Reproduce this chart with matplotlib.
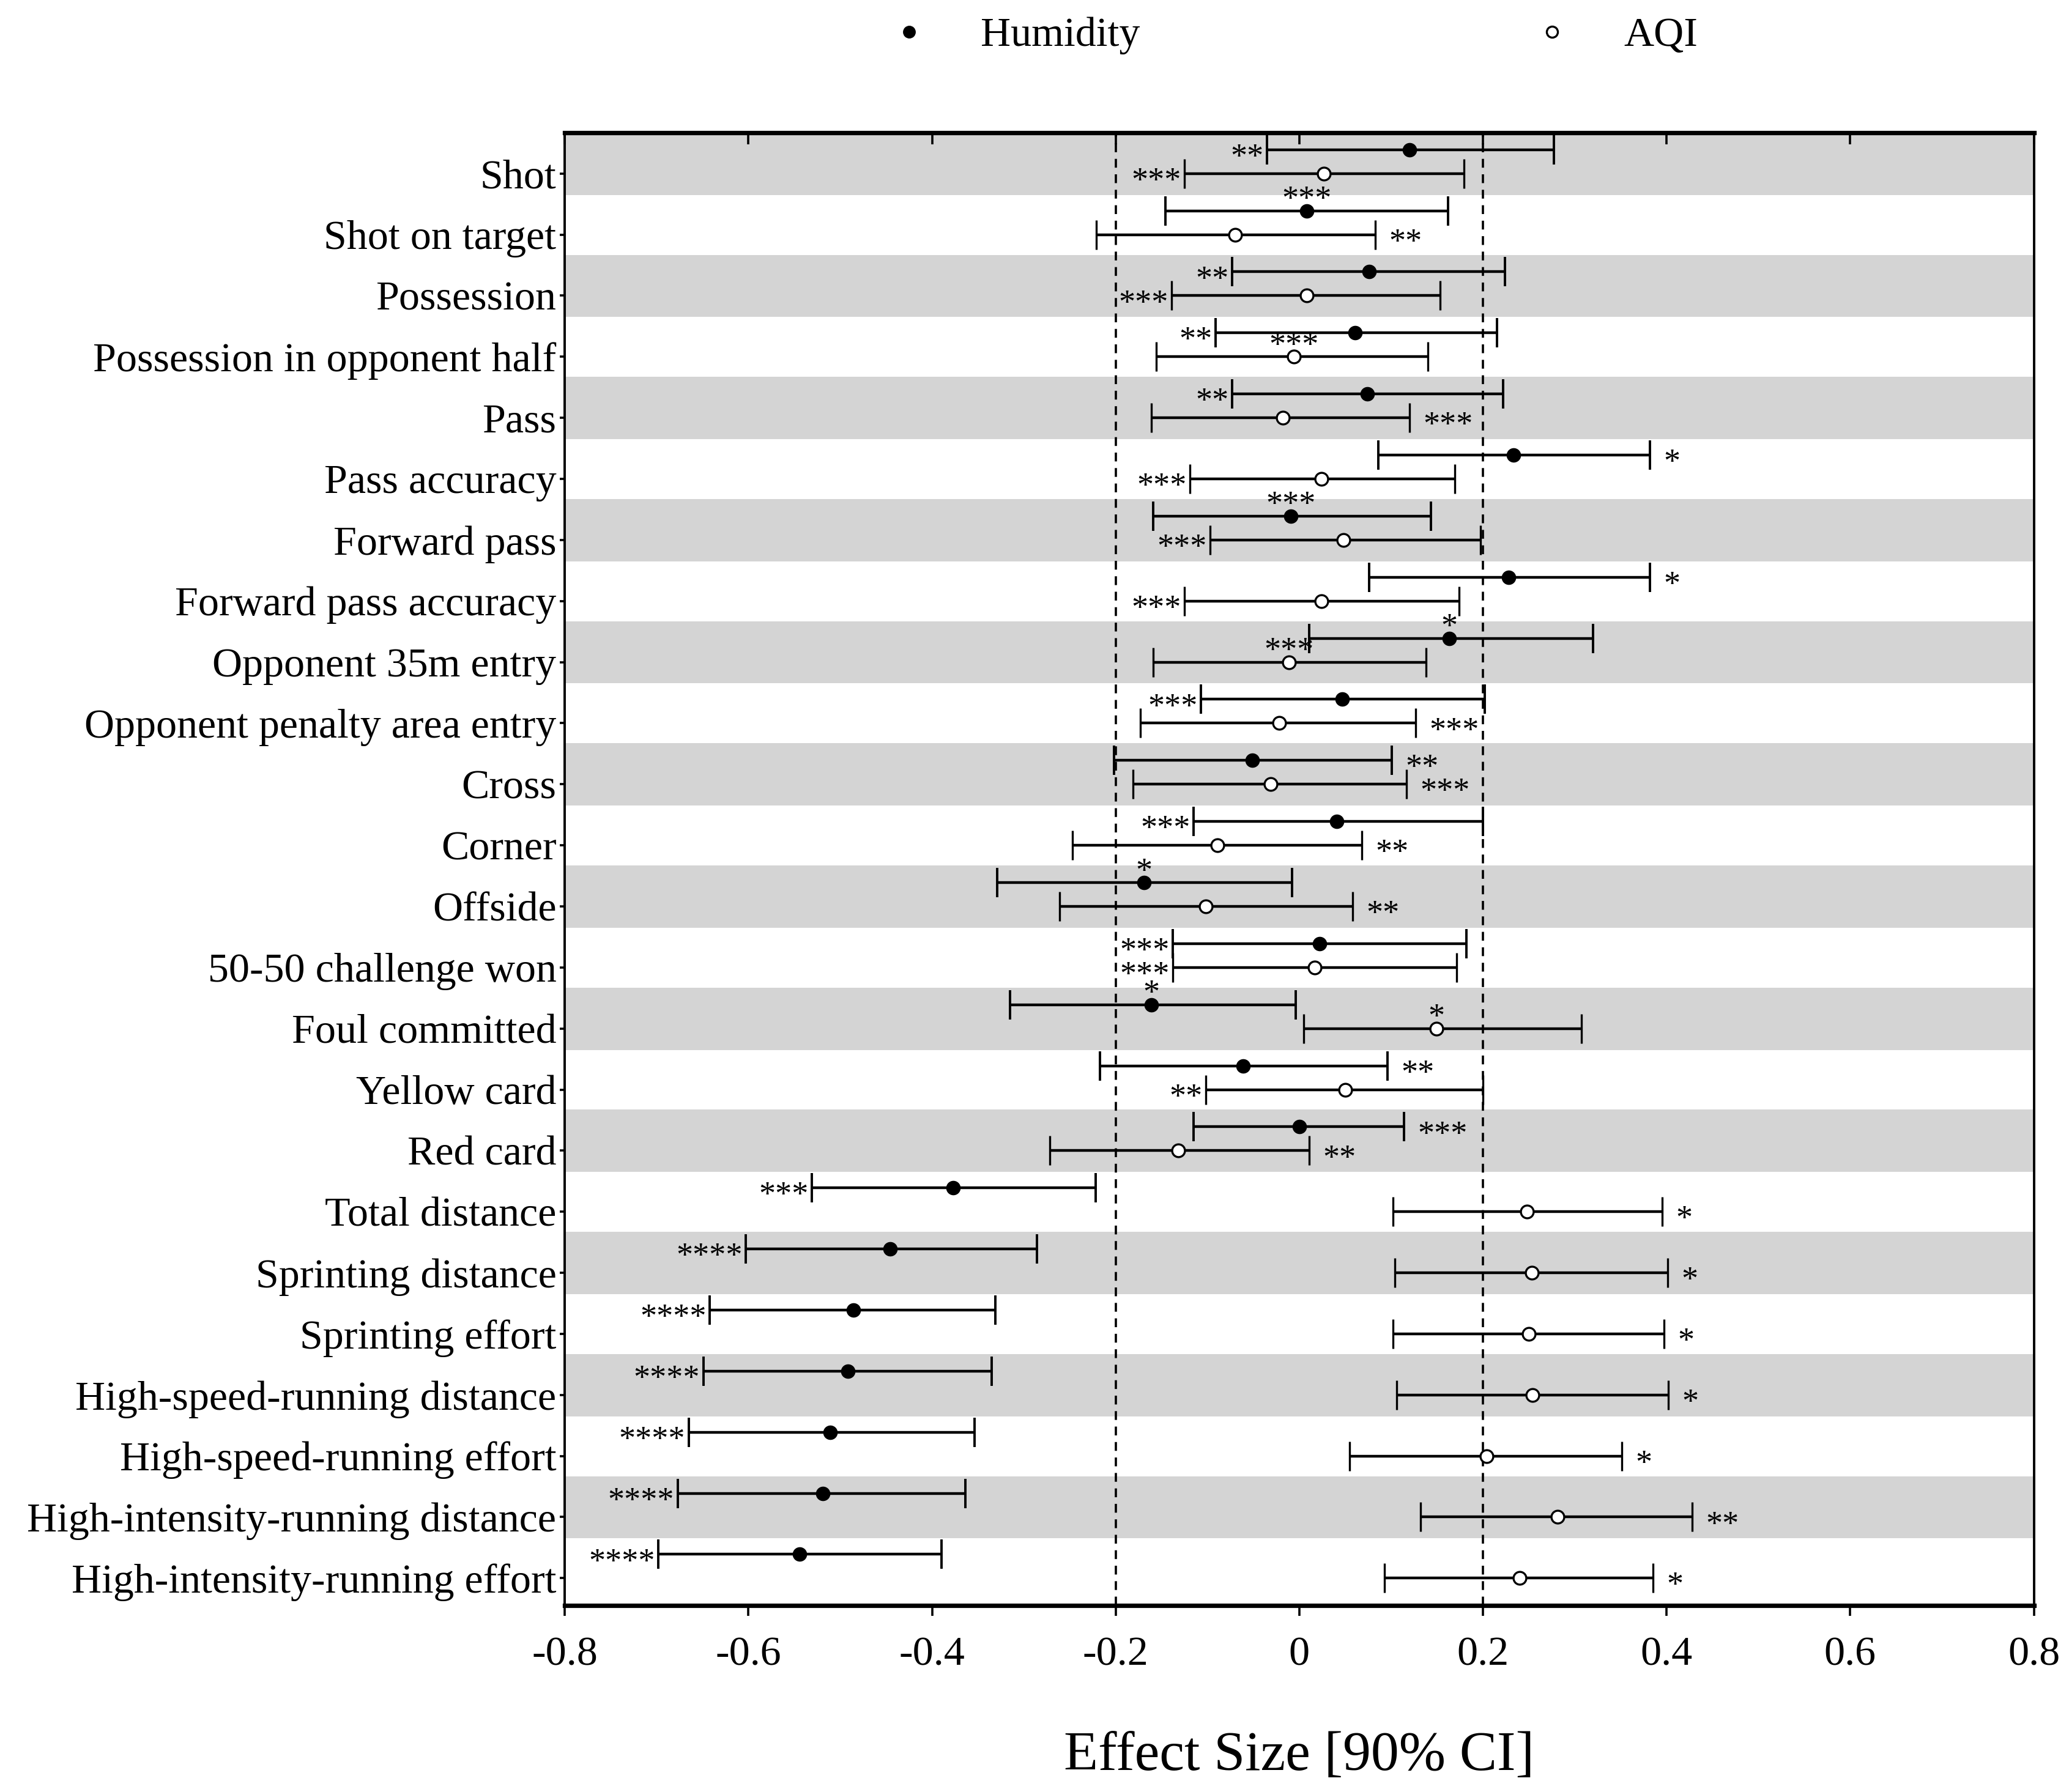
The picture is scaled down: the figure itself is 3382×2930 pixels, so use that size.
import numpy as np
import matplotlib.pyplot as plt
from matplotlib.lines import Line2D

plt.rcParams['font.family'] = ['Liberation Serif', 'DejaVu Serif']
plt.rcParams['axes.unicode_minus'] = False

categories = ['Shot', 'Shot on target', 'Possession', 'Possession in opponent half',
              'Pass', 'Pass accuracy', 'Forward pass', 'Forward pass accuracy',
              'Opponent 35m entry', 'Opponent penalty area entry', 'Cross', 'Corner',
              'Offside', '50-50 challenge won', 'Foul committed', 'Yellow card',
              'Red card', 'Total distance', 'Sprinting distance', 'Sprinting effort',
              'High-speed-running distance', 'High-speed-running effort',
              'High-intensity-running distance', 'High-intensity-running effort']

# humidity effect sizes and 90% CI
hum_es = [0.120, 0.008, 0.076, 0.061, 0.074, 0.233, -0.009, 0.228, 0.163, 0.047, -0.051, 0.041,
          -0.169, 0.022, -0.161, -0.061, 0.000, -0.377, -0.446, -0.486, -0.492, -0.511, -0.519, -0.544]
hum_lo = [-0.035, -0.146, -0.073, -0.091, -0.073, 0.086, -0.159, 0.076, 0.011, -0.107, -0.202, -0.115,
          -0.329, -0.138, -0.315, -0.217, -0.115, -0.531, -0.603, -0.642, -0.649, -0.665, -0.677, -0.698]
hum_hi = [0.277, 0.162, 0.224, 0.215, 0.222, 0.382, 0.143, 0.382, 0.320, 0.202, 0.101, 0.200,
          -0.008, 0.182, -0.004, 0.096, 0.114, -0.222, -0.286, -0.331, -0.335, -0.354, -0.364, -0.390]
hum_stars = ['**', '***', '**', '**', '**', '*', '***', '*', '*', '***', '**', '***',
             '*', '***', '*', '**', '***', '***', '****', '****', '****', '****', '****', '****']
hum_side = ['L', 'A', 'L', 'L', 'L', 'R', 'A', 'R', 'A', 'L', 'R', 'L',
            'A', 'L', 'A', 'R', 'R', 'L', 'L', 'L', 'L', 'L', 'L', 'L']

# AQI effect sizes and 90% CI
aqi_es = [0.027, -0.070, 0.008, -0.006, -0.018, 0.024, 0.048, 0.024, -0.011, -0.022, -0.031, -0.089,
          -0.102, 0.017, 0.149, 0.050, -0.132, 0.248, 0.253, 0.250, 0.254, 0.204, 0.281, 0.240]
aqi_lo = [-0.125, -0.221, -0.139, -0.156, -0.161, -0.119, -0.097, -0.125, -0.159, -0.173, -0.181, -0.247,
          -0.261, -0.138, 0.005, -0.102, -0.272, 0.102, 0.104, 0.102, 0.106, 0.055, 0.132, 0.093]
aqi_hi = [0.179, 0.083, 0.153, 0.140, 0.120, 0.169, 0.197, 0.174, 0.138, 0.127, 0.117, 0.068,
          0.058, 0.171, 0.307, 0.200, 0.011, 0.395, 0.401, 0.397, 0.402, 0.351, 0.428, 0.385]
aqi_stars = ['***', '**', '***', '***', '***', '***', '***', '***', '***', '***', '***', '**',
             '**', '***', '*', '**', '**', '*', '*', '*', '*', '*', '**', '*']
aqi_side = ['L', 'R', 'L', 'A', 'R', 'L', 'L', 'L', 'A', 'R', 'R', 'R',
            'R', 'L', 'A', 'L', 'R', 'R', 'R', 'R', 'R', 'R', 'R', 'R']

fig = plt.figure(figsize=(16.91, 14.65), dpi=200)
ax = fig.add_axes([0.273, 0.104, 0.710, 0.822])

n = len(categories)
y = np.arange(n)
y_hum = y - 0.39
y_aqi = y

for i in range(0, n, 2):
    ax.axhspan(i - 0.67, i + 0.35, color='#d4d4d4', lw=0, zorder=0)

ax.axvline(-0.2, color='black', ls=(0, (4, 3)), lw=1.3, zorder=1)
ax.axvline(0.2, color='black', ls=(0, (4, 3)), lw=1.3, zorder=1)

hum_es = np.array(hum_es)
aqi_es = np.array(aqi_es)
hum_err = [hum_es - np.array(hum_lo), np.array(hum_hi) - hum_es]
aqi_err = [aqi_es - np.array(aqi_lo), np.array(aqi_hi) - aqi_es]

ax.errorbar(hum_es, y_hum, xerr=hum_err, fmt='o', color='black', mfc='black', mec='black',
            ms=7.5, elinewidth=1.6, capsize=8.5, capthick=1.4, zorder=3)
ax.errorbar(aqi_es, y_aqi, xerr=aqi_err, fmt='o', color='black', mfc='white', mec='black',
            ms=7.5, mew=1.2, elinewidth=1.6, capsize=8.5, capthick=1.4, zorder=3)


def put_stars(es, lo, hi, ys, stars, side):
    for k in range(len(es)):
        if side[k] == 'L':
            ax.annotate(stars[k], (lo[k], ys[k]), xytext=(-2, -5), textcoords='offset points',
                        ha='right', va='center', fontsize=19.5, zorder=4)
        elif side[k] == 'R':
            ax.annotate(stars[k], (hi[k], ys[k]), xytext=(8, -5), textcoords='offset points',
                        ha='left', va='center', fontsize=19.5, zorder=4)
        else:
            ax.annotate(stars[k], (es[k], ys[k]), xytext=(0, 6), textcoords='offset points',
                        ha='center', va='center', fontsize=19.5, zorder=4)


put_stars(hum_es, hum_lo, hum_hi, y_hum, hum_stars, hum_side)
put_stars(aqi_es, aqi_lo, aqi_hi, y_aqi, aqi_stars, aqi_side)

ax.set_xlim(-0.8, 0.8)
ax.set_ylim(n - 1 + 0.45, -0.67)
xt = np.arange(-0.8, 0.81, 0.2)
ax.set_xticks(xt)
ax.set_xticklabels(['-0.8', '-0.6', '-0.4', '-0.2', '0', '0.2', '0.4', '0.6', '0.8'])
ax.tick_params(axis='x', direction='out', length=6, width=1.3, pad=12, labelsize=24.5)
ax.set_yticks(y)
ax.set_yticklabels(categories)
ax.tick_params(axis='y', direction='out', length=3, width=1.3, pad=2, labelsize=24.5)
ax.set_xlabel('Effect Size [90% CI]', fontsize=33, labelpad=34)

# top ticks point inward
sec = ax.secondary_xaxis('top')
sec.set_xticks(xt)
sec.tick_params(direction='in', length=7, width=1.3, labeltop=False)
sec.spines['top'].set_visible(False)

ax.spines['top'].set_linewidth(2.6)
ax.spines['bottom'].set_linewidth(2.6)
ax.spines['left'].set_linewidth(1.4)
ax.spines['right'].set_linewidth(1.4)

handles = [Line2D([], [], marker='o', ls='none', color='black', mfc='black', ms=6.5),
           Line2D([], [], marker='o', ls='none', color='black', mfc='white', ms=6.5, mew=1.2)]
fig.legend(handles, ['Humidity', 'AQI'], loc='center', bbox_to_anchor=(0.625, 0.980),
           ncol=2, frameon=False, fontsize=24.5, handlelength=1.0, handletextpad=1.22,
           columnspacing=9.4)

fig.savefig('out.png', dpi=200)
